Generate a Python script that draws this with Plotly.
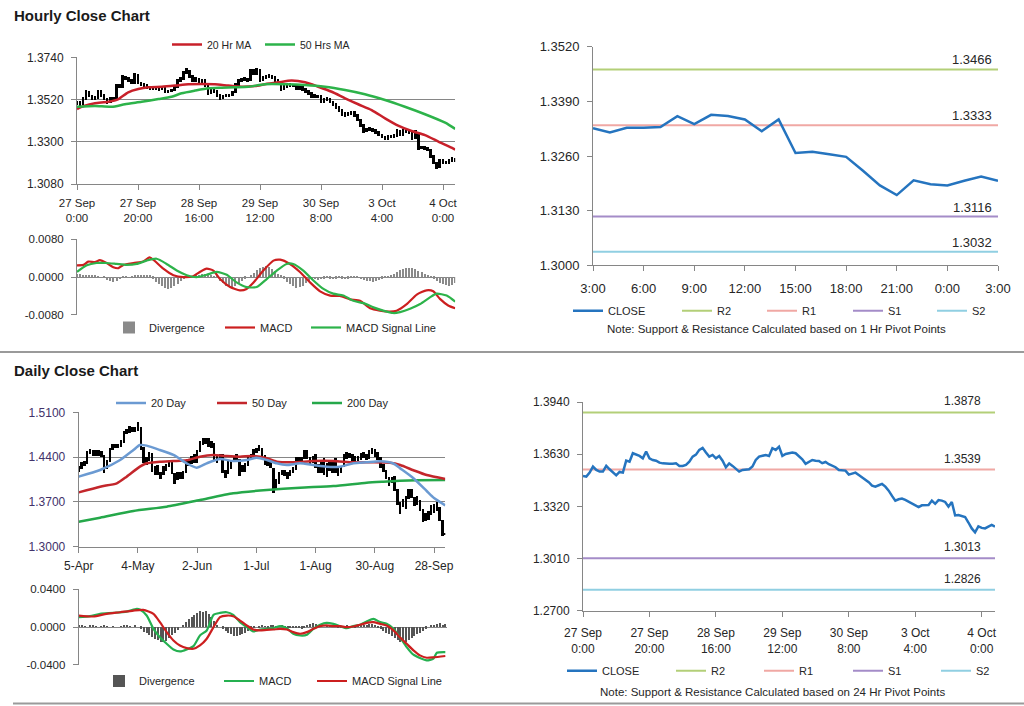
import plotly.graph_objects as go

W, H = 1024, 706
FONT = "Liberation Sans, Arial, sans-serif"
AXC = "#868686"
TXT = "#262626"
PURPLE = "#42326a"

# ---------------- Hourly data (27 Sep 0:00 .. 4 Oct 3:00) ----------------
hourly_tick_pos = [0, 20, 40, 60, 80, 100, 120]
hourly_tick_text = ["27 Sep<br>0:00", "27 Sep<br>20:00", "28 Sep<br>16:00", "29 Sep<br>12:00",
                    "30 Sep<br>8:00", "3 Oct<br>4:00", "4 Oct<br>0:00"]

hourly_close = [
    1.3501, 1.3497, 1.3521, 1.3557, 1.3537, 1.3527, 1.3527, 1.3561, 1.3541, 1.3521,
    1.3505, 1.3525, 1.3521, 1.3592, 1.3586, 1.3636, 1.3628, 1.3620, 1.3606, 1.3646,
    1.3606, 1.3596, 1.3592, 1.3580, 1.3576, 1.3573, 1.3573, 1.3573, 1.3576, 1.3561,
    1.3561, 1.3567, 1.3586, 1.3616, 1.3628, 1.3656, 1.3668, 1.3640, 1.3616, 1.3626,
    1.3606, 1.3620, 1.3592, 1.3553, 1.3576, 1.3561, 1.3541, 1.3527, 1.3537, 1.3541,
    1.3541, 1.3557, 1.3596, 1.3616, 1.3620, 1.3626, 1.3620, 1.3666, 1.3656, 1.3675,
    1.3620, 1.3632, 1.3636, 1.3640, 1.3636, 1.3620, 1.3600, 1.3573, 1.3586, 1.3596,
    1.3592, 1.3590, 1.3577, 1.3584, 1.3571, 1.3561, 1.3553, 1.3537, 1.3537, 1.3533,
    1.3509, 1.3517, 1.3521, 1.3507, 1.3493, 1.3478, 1.3464, 1.3444, 1.3438, 1.3446,
    1.3454, 1.3438, 1.3414, 1.3383, 1.3355, 1.3363, 1.3367, 1.3359, 1.3347, 1.3335,
    1.3326, 1.3316, 1.3327, 1.3327, 1.3329, 1.3355, 1.3336, 1.3358, 1.3355, 1.3347,
    1.3319, 1.3347, 1.3267, 1.3270, 1.3264, 1.3258, 1.3225, 1.3190, 1.3167, 1.3202,
    1.3193, 1.3190, 1.3201, 1.3211, 1.3201]

hourly_high = [
    1.3512, 1.3510, 1.3530, 1.3566, 1.3563, 1.3545, 1.3536, 1.3570, 1.3566, 1.3548,
    1.3527, 1.3533, 1.3531, 1.3600, 1.3598, 1.3645, 1.3642, 1.3634, 1.3626, 1.3655,
    1.3650, 1.3612, 1.3603, 1.3598, 1.3586, 1.3583, 1.3581, 1.3580, 1.3584, 1.3582,
    1.3569, 1.3575, 1.3594, 1.3624, 1.3637, 1.3666, 1.3685, 1.3674, 1.3646, 1.3634,
    1.3632, 1.3628, 1.3626, 1.3598, 1.3584, 1.3582, 1.3567, 1.3548, 1.3545, 1.3549,
    1.3550, 1.3565, 1.3604, 1.3625, 1.3629, 1.3635, 1.3633, 1.3676, 1.3678, 1.3683,
    1.3680, 1.3640, 1.3644, 1.3650, 1.3647, 1.3642, 1.3626, 1.3606, 1.3594, 1.3604,
    1.3603, 1.3600, 1.3596, 1.3592, 1.3590, 1.3578, 1.3568, 1.3560, 1.3546, 1.3543,
    1.3540, 1.3525, 1.3530, 1.3528, 1.3513, 1.3500, 1.3485, 1.3471, 1.3452, 1.3454,
    1.3462, 1.3460, 1.3445, 1.3420, 1.3390, 1.3371, 1.3375, 1.3373, 1.3365, 1.3353,
    1.3341, 1.3332, 1.3335, 1.3335, 1.3338, 1.3364, 1.3362, 1.3366, 1.3372, 1.3363,
    1.3353, 1.3360, 1.3352, 1.3279, 1.3278, 1.3272, 1.3264, 1.3231, 1.3196, 1.3210,
    1.3208, 1.3200, 1.3209, 1.3219, 1.3217]

hourly_low = [
    1.3490, 1.3488, 1.3492, 1.3515, 1.3530, 1.3519, 1.3518, 1.3522, 1.3534, 1.3514,
    1.3496, 1.3500, 1.3512, 1.3516, 1.3578, 1.3580, 1.3620, 1.3612, 1.3598, 1.3600,
    1.3598, 1.3588, 1.3585, 1.3573, 1.3569, 1.3566, 1.3566, 1.3565, 1.3567, 1.3553,
    1.3553, 1.3556, 1.3561, 1.3580, 1.3609, 1.3622, 1.3650, 1.3632, 1.3608, 1.3610,
    1.3598, 1.3600, 1.3584, 1.3545, 1.3547, 1.3553, 1.3533, 1.3519, 1.3520, 1.3530,
    1.3533, 1.3535, 1.3551, 1.3590, 1.3609, 1.3613, 1.3612, 1.3614, 1.3648, 1.3649,
    1.3612, 1.3614, 1.3626, 1.3630, 1.3628, 1.3612, 1.3592, 1.3565, 1.3567, 1.3580,
    1.3585, 1.3583, 1.3570, 1.3571, 1.3564, 1.3553, 1.3545, 1.3529, 1.3529, 1.3525,
    1.3500, 1.3502, 1.3510, 1.3499, 1.3485, 1.3470, 1.3456, 1.3436, 1.3430, 1.3431,
    1.3439, 1.3430, 1.3406, 1.3375, 1.3347, 1.3348, 1.3357, 1.3352, 1.3340, 1.3328,
    1.3319, 1.3309, 1.3310, 1.3319, 1.3320, 1.3323, 1.3329, 1.3330, 1.3347, 1.3339,
    1.3311, 1.3313, 1.3259, 1.3260, 1.3257, 1.3250, 1.3217, 1.3182, 1.3160, 1.3162,
    1.3186, 1.3183, 1.3184, 1.3195, 1.3194]

ma20_h_x = [0, 2.6, 5.9, 10.3, 13.6, 16.8, 20.1, 23.4, 27.8, 32.1, 36.5, 40.9, 45.2, 49.6, 54.0,
            58.4, 61.6, 66.0, 70.4, 74.8, 79.1, 83.5, 87.9, 92.2, 96.6, 101.0, 105.3, 109.7,
            114.1, 118.5, 122.8, 124]
ma20_h = [1.3471, 1.3489, 1.3501, 1.3509, 1.3523, 1.3558, 1.3575, 1.3584, 1.3587, 1.3593, 1.3600,
          1.3601, 1.3600, 1.3593, 1.3587, 1.3591, 1.3600, 1.3610, 1.3619, 1.3610, 1.3587, 1.3561,
          1.3527, 1.3496, 1.3466, 1.3423, 1.3385, 1.3357, 1.3336, 1.3302, 1.3270, 1.3260]

ma50_h_x = [0, 5.9, 11.4, 15.7, 21.2, 26.7, 31.0, 34.3, 38.7, 43.1, 47.4, 51.8, 56.2, 61.6, 68.2,
            74.8, 81.3, 87.9, 94.4, 101.0, 107.5, 114.1, 120.7, 124]
ma50_h = [1.3483, 1.3487, 1.3483, 1.3496, 1.3509, 1.3523, 1.3535, 1.3553, 1.3567, 1.3579, 1.3582,
          1.3584, 1.3587, 1.3600, 1.3600, 1.3596, 1.3587, 1.3570, 1.3548, 1.3518, 1.3483, 1.3444,
          1.3400, 1.3368]

macd_h_x = [0, 2.1, 3.7, 5.9, 7.5, 9.7, 11.9, 13.6, 15.2, 18.5, 21.7, 23.7, 25.0, 28.3, 31.6, 34.9,
            38.1, 40.3, 42.5, 44.7, 46.9, 50.2, 53.4, 55.6, 57.8, 61.1, 64.4, 66.6, 69.8, 73.1,
            76.4, 79.7, 83.0, 86.2, 89.5, 92.8, 96.1, 99.3, 102.6, 104.8, 108.1, 111.4, 114.6,
            116.8, 119.0, 121.7, 124]
macd_h = [0.0025, 0.0026, 0.0033, 0.0032, 0.0036, 0.0030, 0.0021, 0.0019, 0.0026, 0.0030,
          0.0033, 0.0042, 0.0037, 0.0018, 0.0004, 0.0000, 0.0002, 0.0011, 0.0018, 0.0014,
          -0.0004, -0.0021, -0.0028, -0.0025, -0.0012, 0.0014, 0.0035, 0.0037, 0.0028, 0.0011,
          -0.0011, -0.0030, -0.0039, -0.0040, -0.0047, -0.0050, -0.0066, -0.0071, -0.0073, -0.0071,
          -0.0057, -0.0037, -0.0028, -0.0030, -0.0046, -0.0060, -0.0066]

signal_h_x = [0, 3.2, 6.4, 9.7, 13.0, 16.3, 19.6, 22.8, 26.1, 29.4, 32.7, 36.0, 39.2, 42.5, 45.8,
              49.1, 52.3, 55.6, 58.9, 62.2, 65.5, 68.7, 70.9, 74.2, 77.5, 80.8, 84.0, 87.3, 90.6,
              93.9, 97.2, 100.4, 103.7, 105.9, 109.2, 112.5, 115.7, 117.9, 121.2, 124]
signal_h = [0.0011, 0.0025, 0.0030, 0.0030, 0.0028, 0.0026, 0.0028, 0.0035, 0.0039, 0.0028,
            0.0014, 0.0004, 0.0000, 0.0005, 0.0011, 0.0005, -0.0011, -0.0021, -0.0021, -0.0004,
            0.0014, 0.0028, 0.0028, 0.0014, -0.0007, -0.0025, -0.0035, -0.0039, -0.0050, -0.0055,
            -0.0064, -0.0071, -0.0076, -0.0074, -0.0067, -0.0057, -0.0043, -0.0035, -0.0039, -0.0052]

divergence_h = [
    0.0006, 0.0005, 0.0004, 0.0003, 0.0003, 0.0002, 0.0002, 0.0001, 0.0000, -0.0003,
    -0.0006, -0.0009, -0.0010, -0.0008, -0.0005, -0.0002, -0.0001, 0.0000, 0.0001, 0.0002,
    0.0003, 0.0003, 0.0004, 0.0003, 0.0002, -0.0004, -0.0010, -0.0016, -0.0020, -0.0023,
    -0.0025, -0.0024, -0.0020, -0.0015, -0.0009, -0.0004, -0.0001, 0.0000, 0.0001, 0.0002,
    0.0003, 0.0005, 0.0006, 0.0005, 0.0003, 0.0001, -0.0002, -0.0008, -0.0014, -0.0019,
    -0.0021, -0.0022, -0.0019, -0.0014, -0.0009, -0.0004, 0.0000, 0.0004, 0.0009, 0.0014,
    0.0018, 0.0021, 0.0022, 0.0020, 0.0017, 0.0012, 0.0007, 0.0002, -0.0004, -0.0010,
    -0.0016, -0.0020, -0.0023, -0.0022, -0.0019, -0.0014, -0.0009, -0.0006, -0.0005, -0.0006,
    -0.0005, -0.0004, -0.0003, -0.0004, -0.0005, -0.0004, -0.0003, -0.0004, -0.0005, -0.0004,
    -0.0003, -0.0002, -0.0003, -0.0005, -0.0007, -0.0008, -0.0009, -0.0010, -0.0008, -0.0006,
    -0.0004, -0.0003, -0.0001, 0.0002, 0.0006, 0.0010, 0.0014, 0.0017, 0.0019, 0.0019,
    0.0018, 0.0016, 0.0013, 0.0010, 0.0007, 0.0004, 0.0001, -0.0004, -0.0009, -0.0013,
    -0.0016, -0.0018, -0.0019, -0.0017, -0.0014]

# 1-hour pivot panel (last 25 hourly closes, 3:00 .. 3:00)
pivot_h_tick_pos = [0, 3, 6, 9, 12, 15, 18, 21, 24]
pivot_h_tick_text = ["3:00", "6:00", "9:00", "12:00", "15:00", "18:00", "21:00", "0:00", "3:00"]
r2_h, r1_h, s1_h, s2_h = 1.3466, 1.3333, 1.3116, 1.3032
pivot_h_yticks = [1.3000, 1.3130, 1.3260, 1.3390, 1.3520]
pivot_h_ytext = ["1.3000", "1.3130", "1.3260", "1.3390", "1.3520"]

# 24-hour pivot panel levels
r2_d, r1_d, s1_d, s2_d = 1.3878, 1.3539, 1.3013, 1.2826
pivot_d_yticks = [1.2700, 1.3010, 1.3320, 1.3630, 1.3940]
pivot_d_ytext = ["1.2700", "1.3010", "1.3320", "1.3630", "1.3940"]

# ---------------- Daily data (5 Apr .. 4 Oct) ----------------
daily_tick_pos = [0, 21, 42, 63, 84, 105, 126]
daily_tick_text = ["5-Apr", "4-May", "2-Jun", "1-Jul", "1-Aug", "30-Aug", "28-Sep"]

daily_close = [
    1.4219, 1.4308, 1.4301, 1.4483, 1.4489, 1.4474, 1.4437, 1.4480, 1.4431, 1.4229,
    1.4325, 1.4506, 1.4563, 1.4570, 1.4578, 1.4648, 1.4782, 1.4811, 1.4806, 1.4824,
    1.4832, 1.4827, 1.4538, 1.4313, 1.4362, 1.4425, 1.4189, 1.4230, 1.4120, 1.4150,
    1.4236, 1.4265, 1.4315, 1.4150, 1.4049, 1.4119, 1.4096, 1.4168, 1.4317, 1.4291,
    1.4395, 1.4322, 1.4498, 1.4637, 1.4635, 1.4667, 1.4606, 1.4603, 1.4344, 1.4391,
    1.4437, 1.4170, 1.4139, 1.4307, 1.4340, 1.4390, 1.4344, 1.4226, 1.4185, 1.4303,
    1.4374, 1.4417, 1.4500, 1.4526, 1.4535, 1.4418, 1.4285, 1.4365, 1.4257, 1.3983,
    1.4004, 1.4151, 1.4173, 1.4152, 1.4117, 1.4173, 1.4221, 1.4373, 1.4367, 1.4379,
    1.4491, 1.4380, 1.4335, 1.4397, 1.4248, 1.4186, 1.4336, 1.4150, 1.4269, 1.4192,
    1.4300, 1.4165, 1.4227, 1.4247, 1.4429, 1.4404, 1.4440, 1.4332, 1.4390, 1.4370,
    1.4447, 1.4407, 1.4381, 1.4495, 1.4497, 1.4437, 1.4378, 1.4245, 1.4197, 1.4074,
    1.4002, 1.4076, 1.3879, 1.3653, 1.3658, 1.3700, 1.3769, 1.3870, 1.3795, 1.3685,
    1.3704, 1.3574, 1.3453, 1.3502, 1.3515, 1.3590, 1.3542, 1.3582, 1.3420, 1.3190,
    1.3201]

daily_high = [
    1.4250, 1.4320, 1.4340, 1.4490, 1.4520, 1.4500, 1.4500, 1.4500, 1.4490, 1.4430,
    1.4350, 1.4540, 1.4600, 1.4600, 1.4600, 1.4660, 1.4800, 1.4840, 1.4880, 1.4860,
    1.4870, 1.4940, 1.4860, 1.4550, 1.4400, 1.4480, 1.4460, 1.4260, 1.4270, 1.4170,
    1.4260, 1.4290, 1.4330, 1.4330, 1.4140, 1.4160, 1.4160, 1.4180, 1.4330, 1.4330,
    1.4410, 1.4450, 1.4510, 1.4650, 1.4690, 1.4700, 1.4690, 1.4640, 1.4610, 1.4420,
    1.4450, 1.4450, 1.4190, 1.4330, 1.4350, 1.4410, 1.4450, 1.4370, 1.4270, 1.4310,
    1.4390, 1.4440, 1.4520, 1.4540, 1.4580, 1.4540, 1.4430, 1.4380, 1.4370, 1.4230,
    1.4060, 1.4170, 1.4200, 1.4200, 1.4160, 1.4190, 1.4240, 1.4400, 1.4400, 1.4400,
    1.4510, 1.4500, 1.4400, 1.4420, 1.4450, 1.4280, 1.4350, 1.4380, 1.4310, 1.4320,
    1.4340, 1.4380, 1.4250, 1.4260, 1.4440, 1.4470, 1.4460, 1.4450, 1.4410, 1.4420,
    1.4460, 1.4470, 1.4440, 1.4500, 1.4530, 1.4520, 1.4480, 1.4390, 1.4280, 1.4190,
    1.4090, 1.4090, 1.4100, 1.3900, 1.3690, 1.3740, 1.3790, 1.3900, 1.3890, 1.3770,
    1.3780, 1.3720, 1.3580, 1.3520, 1.3550, 1.3640, 1.3660, 1.3690, 1.3610, 1.3420,
    1.3215]

daily_low = [
    1.4155, 1.4210, 1.4250, 1.4290, 1.4440, 1.4420, 1.4410, 1.4410, 1.4390, 1.4150,
    1.4210, 1.4320, 1.4500, 1.4540, 1.4530, 1.4560, 1.4620, 1.4760, 1.4770, 1.4780,
    1.4790, 1.4800, 1.4510, 1.4300, 1.4270, 1.4340, 1.4170, 1.4120, 1.4110, 1.4060,
    1.4120, 1.4180, 1.4240, 1.4130, 1.3970, 1.4030, 1.4050, 1.4060, 1.4150, 1.4250,
    1.4280, 1.4300, 1.4300, 1.4470, 1.4580, 1.4600, 1.4560, 1.4530, 1.4330, 1.4310,
    1.4360, 1.4150, 1.4070, 1.4130, 1.4210, 1.4320, 1.4320, 1.4100, 1.4170, 1.4160,
    1.4260, 1.4350, 1.4400, 1.4460, 1.4490, 1.4400, 1.4270, 1.4250, 1.4220, 1.3840,
    1.3900, 1.3980, 1.4110, 1.4100, 1.4050, 1.4100, 1.4150, 1.4200, 1.4330, 1.4300,
    1.4370, 1.4360, 1.4280, 1.4300, 1.4230, 1.4150, 1.4150, 1.4120, 1.4080, 1.4180,
    1.4140, 1.4150, 1.4100, 1.4150, 1.4240, 1.4370, 1.4380, 1.4300, 1.4300, 1.4330,
    1.4350, 1.4380, 1.4350, 1.4360, 1.4450, 1.4390, 1.4350, 1.4230, 1.4170, 1.4050,
    1.3940, 1.3990, 1.3860, 1.3650, 1.3500, 1.3620, 1.3590, 1.3740, 1.3760, 1.3630,
    1.3650, 1.3560, 1.3380, 1.3390, 1.3410, 1.3490, 1.3520, 1.3550, 1.3400, 1.3160,
    1.3180]

ma20_d_x = [0, 7.6, 14.7, 19.4, 21.7, 24.1, 28.8, 33.6, 38.3, 41.8, 45.4, 50.1, 54.8, 59.6, 63.1,
            66.7, 70.2, 73.8, 78.5, 83.2, 87.9, 92.7, 97.4, 102.1, 106.9, 111.6, 114.0, 118.7,
            123.4, 126.0, 130]
ma20_d = [1.4095, 1.4198, 1.4355, 1.4511, 1.4589, 1.4579, 1.4511, 1.4433, 1.4303, 1.4235,
          1.4303, 1.4370, 1.4339, 1.4355, 1.4391, 1.4355, 1.4303, 1.4277, 1.4303, 1.4277,
          1.4251, 1.4251, 1.4303, 1.4318, 1.4335, 1.4300, 1.4224, 1.4070, 1.3870, 1.3760, 1.3645]

ma50_d_x = [0, 7.6, 13.5, 17.0, 21.7, 24.1, 28.8, 33.6, 38.3, 43.0, 47.8, 52.5, 57.2, 61.9, 66.7,
            70.2, 76.1, 83.2, 90.3, 97.4, 104.5, 110.4, 114.0, 118.7, 123.4, 130]
ma50_d = [1.3849, 1.3938, 1.3990, 1.4094, 1.4251, 1.4303, 1.4329, 1.4339, 1.4350, 1.4407,
          1.4433, 1.4417, 1.4407, 1.4417, 1.4381, 1.4329, 1.4318, 1.4339, 1.4339, 1.4318,
          1.4318, 1.4310, 1.4276, 1.4195, 1.4120, 1.4058]

ma200_d_x = [0, 7.6, 19.4, 31.2, 43.0, 54.8, 66.7, 78.5, 90.3, 102.1, 108.0, 113.9, 119.9, 130]
ma200_d = [1.3391, 1.3453, 1.3558, 1.3625, 1.3729, 1.3834, 1.3886, 1.3922, 1.3948, 1.4000,
           1.4016, 1.4030, 1.4037, 1.4042]

macd_d_x = [0, 4.0, 7.6, 12.3, 17.0, 20.6, 21.7, 24.1, 26.5, 28.8, 31.2, 33.6, 35.9, 38.3, 40.7,
            43.0, 45.4, 47.8, 50.1, 52.5, 54.8, 57.2, 59.6, 61.9, 64.3, 66.7, 69.0, 71.4, 73.8,
            76.1, 78.5, 80.9, 83.2, 85.6, 87.9, 90.3, 92.7, 95.0, 97.4, 99.8, 102.1, 104.5, 106.9,
            109.2, 111.6, 113.9, 116.3, 118.7, 121.0, 123.4, 125.8, 127.0, 130]
macd_d = [0.0106, 0.0116, 0.0141, 0.0151, 0.0165, 0.0194, 0.0187, 0.0123, -0.0018, -0.0106,
          -0.0176, -0.0236, -0.0257, -0.0236, -0.0201, -0.0088, -0.0035, 0.0130, 0.0151, 0.0158,
          0.0130, 0.0053, 0.0000, -0.0046, -0.0025, -0.0018, -0.0011, 0.0011, -0.0011, -0.0070,
          -0.0088, -0.0081, -0.0018, 0.0025, 0.0046, 0.0035, 0.0011, -0.0011, 0.0011, 0.0025,
          0.0060, 0.0088, 0.0053, 0.0035, -0.0018, -0.0106, -0.0211, -0.0292, -0.0327, -0.0352,
          -0.0334, -0.0271, -0.0264]

signal_d_x = [0, 5.2, 9.9, 14.7, 19.4, 22.9, 26.5, 28.8, 31.2, 33.6, 35.9, 38.3, 40.7, 43.0, 45.4,
              47.8, 50.1, 52.5, 54.8, 57.2, 59.6, 61.9, 64.3, 66.7, 69.0, 71.4, 73.8, 76.1, 78.5,
              80.9, 83.2, 85.6, 87.9, 90.3, 92.7, 95.0, 97.4, 99.8, 102.1, 104.5, 106.9, 109.2,
              111.6, 113.9, 116.3, 118.7, 121.0, 123.4, 125.8, 130]
signal_d = [0.0123, 0.0113, 0.0141, 0.0158, 0.0176, 0.0183, 0.0141, 0.0053, -0.0053, -0.0141,
            -0.0194, -0.0222, -0.0229, -0.0194, -0.0123, 0.0000, 0.0106, 0.0123, 0.0116, 0.0070,
            0.0018, -0.0025, -0.0035, -0.0028, -0.0025, -0.0018, -0.0025, -0.0053, -0.0070, -0.0053,
            -0.0018, 0.0011, 0.0018, 0.0011, 0.0011, 0.0000, 0.0007, 0.0025, 0.0046, 0.0053,
            0.0035, 0.0018, -0.0035, -0.0106, -0.0176, -0.0246, -0.0299, -0.0324, -0.0320, -0.0306]

divergence_d = [
    0.0010, 0.0010, 0.0005, 0.0000, 0.0010, 0.0010, 0.0005, 0.0000, 0.0005, 0.0010, 0.0005,
    0.0000, 0.0005, 0.0000, 0.0000, 0.0005, 0.0010, 0.0010, 0.0005, 0.0000, 0.0010,
    0.0000, -0.0020, -0.0050,
    -0.0070, -0.0090, -0.0110, -0.0130, -0.0140, -0.0160, -0.0160, -0.0150, -0.0120, -0.0090, -0.0060, -0.0030,
    0.0000, 0.0020, 0.0050, 0.0080, 0.0100,
    0.0130, 0.0150, 0.0170, 0.0160, 0.0170, 0.0140, 0.0100, 0.0060,
    0.0020, 0.0000, -0.0020, -0.0040,
    -0.0060, -0.0080, -0.0100, -0.0100, -0.0090, -0.0080, -0.0060, -0.0040, -0.0020, -0.0010,
    0.0000, -0.0010, 0.0010, 0.0005, -0.0005, 0.0010, 0.0010, 0.0005, 0.0000, 0.0010, 0.0005,
    -0.0005, -0.0010, -0.0015, -0.0010, -0.0015, -0.0020, -0.0010,
    0.0020, 0.0030, 0.0040, 0.0030, 0.0020, 0.0010, 0.0000,
    0.0015, 0.0020, 0.0010, 0.0000, -0.0010, -0.0015, 0.0000, 0.0010, 0.0005, 0.0000, -0.0005,
    0.0005, 0.0010, 0.0015, 0.0020, 0.0025, 0.0030, 0.0020,
    -0.0010, -0.0020, -0.0040, -0.0060, -0.0080,
    -0.0100, -0.0120, -0.0140, -0.0160, -0.0150, -0.0160, -0.0140, -0.0120, -0.0100, -0.0080, -0.0060,
    -0.0040, -0.0020, 0.0000, 0.0010,
    0.0020, 0.0030, 0.0040, 0.0020, 0.0030]

price_ticks_h = [1.3080, 1.3300, 1.3520, 1.3740]
price_text_h = ["1.3080", "1.3300", "1.3520", "1.3740"]
macd_ticks_h = [-0.008, 0.0, 0.008]
macd_text_h = ["-0.0080", "0.0000", "0.0080"]
price_ticks_d = [1.3000, 1.3700, 1.4400, 1.5100]
price_text_d = ["1.3000", "1.3700", "1.4400", "1.5100"]
macd_ticks_d = [-0.04, 0.0, 0.04]
macd_text_d = ["-0.0400", "0.0000", "0.0400"]

# ---------------- helpers ----------------
def px(x):
    return x / W


def py(y):
    return 1 - y / H


LEG_OFF = 5
legends = {}


def legend_at(x_px, y_px, size=11):
    n = len(legends) + 1
    key = "legend" if n == 1 else "legend%d" % n
    legends[key] = dict(x=px(x_px - LEG_OFF), y=py(y_px), xanchor="left", yanchor="middle",
                        orientation="h", bgcolor="rgba(0,0,0,0)", borderwidth=0,
                        font=dict(family=FONT, size=size, color=TXT), itemwidth=30)
    return key


fig = go.Figure()

# ---------- Panel 1: hourly bars + MAs ----------
idx_h = list(range(len(hourly_close)))
fig.add_trace(go.Bar(x=idx_h, y=[h - l for h, l in zip(hourly_high, hourly_low)], base=hourly_low,
                     width=0.65, marker=dict(color="#000000", line=dict(width=0)),
                     xaxis="x", yaxis="y", showlegend=False, name="Hourly"))
fig.add_trace(go.Scatter(x=ma20_h_x, y=ma20_h, mode="lines", name="20 Hr MA",
                         line=dict(color="#c8202a", width=2.5, shape="spline", smoothing=0.6),
                         xaxis="x", yaxis="y", legend=legend_at(172, 44.5, 10.5)))
fig.add_trace(go.Scatter(x=ma50_h_x, y=ma50_h, mode="lines", name="50 Hrs MA",
                         line=dict(color="#2db34a", width=2.5, shape="spline", smoothing=0.6),
                         xaxis="x", yaxis="y", legend=legend_at(265, 44.5, 10.5)))

# ---------- Panel 2: hourly MACD ----------
fig.add_trace(go.Bar(x=idx_h, y=divergence_h, width=0.4, name="Divergence",
                     marker=dict(color="#8a8a8a", line=dict(width=0)),
                     xaxis="x2", yaxis="y2", legend=legend_at(114, 327.5)))
fig.add_trace(go.Scatter(x=macd_h_x, y=macd_h, mode="lines", name="MACD",
                         line=dict(color="#cc1f1f", width=2.2, shape="spline", smoothing=0.6),
                         xaxis="x2", yaxis="y2", legend=legend_at(225, 327.5)))
fig.add_trace(go.Scatter(x=signal_h_x, y=signal_h, mode="lines", name="MACD Signal Line",
                         line=dict(color="#2db34a", width=2.2, shape="spline", smoothing=0.6),
                         xaxis="x2", yaxis="y2", legend=legend_at(311, 327.5)))

# ---------- Panel 3: 1 Hr pivot ----------
pivot_h_close = hourly_close[100:]
span_h = [0, len(pivot_h_close) - 1]
pivot_colors = {"R2": "#b3cf78", "R1": "#f0a8a4", "S1": "#a48cc8", "S2": "#90cfe2"}
for name, val, lx in [("R2", r2_h, 682), ("R1", r1_h, 767), ("S1", s1_h, 853), ("S2", s2_h, 937)]:
    fig.add_trace(go.Scatter(x=span_h, y=[val, val], mode="lines", name=name,
                             line=dict(color=pivot_colors[name], width=2),
                             xaxis="x3", yaxis="y3", legend=legend_at(lx, 310.7)))
fig.add_trace(go.Scatter(x=list(range(len(pivot_h_close))), y=pivot_h_close, mode="lines", name="CLOSE",
                         line=dict(color="#2574bf", width=2.5),
                         xaxis="x3", yaxis="y3", legend=legend_at(573, 310.7)))

# ---------- Panel 4: daily bars + MAs ----------
idx_d = list(range(len(daily_close)))
fig.add_trace(go.Bar(x=idx_d, y=[h - l for h, l in zip(daily_high, daily_low)], base=daily_low,
                     width=0.7, marker=dict(color="#000000", line=dict(width=0)),
                     xaxis="x4", yaxis="y4", showlegend=False, name="Daily"))
fig.add_trace(go.Scatter(x=ma200_d_x, y=ma200_d, mode="lines", name="200 Day",
                         line=dict(color="#25a84a", width=2.5, shape="spline", smoothing=0.6),
                         xaxis="x4", yaxis="y4", legend=legend_at(312, 403)))
fig.add_trace(go.Scatter(x=ma50_d_x, y=ma50_d, mode="lines", name="50 Day",
                         line=dict(color="#c3262b", width=2.5, shape="spline", smoothing=0.6),
                         xaxis="x4", yaxis="y4", legend=legend_at(217, 403)))
fig.add_trace(go.Scatter(x=ma20_d_x, y=ma20_d, mode="lines", name="20 Day",
                         line=dict(color="#6b9ad2", width=2.5, shape="spline", smoothing=0.6),
                         xaxis="x4", yaxis="y4", legend=legend_at(116, 403)))

# ---------- Panel 5: daily MACD ----------
fig.add_trace(go.Bar(x=idx_d, y=divergence_d, width=0.45, name="Divergence",
                     marker=dict(color="#555555", line=dict(width=0)),
                     xaxis="x5", yaxis="y5", legend=legend_at(104, 681)))
fig.add_trace(go.Scatter(x=macd_d_x, y=macd_d, mode="lines", name="MACD",
                         line=dict(color="#25b050", width=2.2, shape="spline", smoothing=0.6),
                         xaxis="x5", yaxis="y5", legend=legend_at(224, 681)))
fig.add_trace(go.Scatter(x=signal_d_x, y=signal_d, mode="lines", name="MACD Signal Line",
                         line=dict(color="#cc1f1f", width=2.2, shape="spline", smoothing=0.6),
                         xaxis="x5", yaxis="y5", legend=legend_at(317, 681)))

# ---------- Panel 6: 24 Hr pivot ----------
span_d = [0, len(hourly_close) - 1]
for name, val, lx in [("R2", r2_d, 676), ("R1", r1_d, 764), ("S1", s1_d, 853), ("S2", s2_d, 941)]:
    fig.add_trace(go.Scatter(x=span_d, y=[val, val], mode="lines", name=name,
                             line=dict(color=pivot_colors[name], width=2),
                             xaxis="x6", yaxis="y6", legend=legend_at(lx, 670.7)))
fig.add_trace(go.Scatter(x=idx_h, y=hourly_close, mode="lines", name="CLOSE",
                         line=dict(color="#2574bf", width=2.5),
                         xaxis="x6", yaxis="y6", legend=legend_at(567, 670.7)))


# ---------- axes ----------
def axis(**kw):
    d = dict(showgrid=False, zeroline=False, showline=True, linecolor=AXC, linewidth=1,
             ticks="outside", ticklen=5, tickcolor=AXC, tickwidth=1, fixedrange=True,
             automargin=False,
             tickfont=dict(family=FONT, size=12, color=TXT), tickmode="array")
    d.update(kw)
    return d


layout_axes = dict(
    xaxis=axis(domain=[px(77), px(455.2)], range=[0, 124], anchor="y",
               tickvals=hourly_tick_pos, ticktext=hourly_tick_text,
               tickfont=dict(family=FONT, size=11.5, color=TXT), ticklabelstandoff=3),
    yaxis=axis(domain=[py(184.3), py(57.3)], range=[1.30799, 1.37401], anchor="x",
               tickvals=price_ticks_h, ticktext=price_text_h, showgrid=True, gridcolor=AXC,
               ticklabelstandoff=5),
    xaxis2=axis(domain=[px(77), px(455.2)], range=[0, 124], anchor="y2", showline=False,
                ticks="", showticklabels=False),
    yaxis2=axis(domain=[py(315), py(239.3)], range=[-0.00802, 0.00802], anchor="x2",
                tickvals=macd_ticks_h, ticktext=macd_text_h, showgrid=True, gridcolor=AXC,
                zeroline=True, zerolinecolor=AXC, zerolinewidth=1, ticklabelstandoff=5,
                tickfont=dict(family=FONT, size=11.5, color=TXT)),
    xaxis3=axis(domain=[px(593), px(998)], range=[0, 24], anchor="y3",
                tickvals=pivot_h_tick_pos, ticktext=pivot_h_tick_text,
                tickfont=dict(family=FONT, size=13, color=TXT), ticklabelstandoff=6),
    yaxis3=axis(domain=[py(265.3), py(46.7)], range=[1.29999, 1.35201], anchor="x3",
                tickvals=pivot_h_yticks, ticktext=pivot_h_ytext,
                tickfont=dict(family=FONT, size=13, color=TXT), ticklabelstandoff=5),
    xaxis4=axis(domain=[px(78.7), px(445.3)], range=[0, 130], anchor="y4",
                tickvals=daily_tick_pos, ticktext=daily_tick_text, ticklabelstandoff=3),
    yaxis4=axis(domain=[py(546.7), py(412.3)], range=[1.29999, 1.51001], anchor="x4",
                tickvals=price_ticks_d, ticktext=price_text_d, showgrid=True, gridcolor=AXC,
                tickfont=dict(family=FONT, size=12, color=PURPLE), ticklabelstandoff=5),
    xaxis5=axis(domain=[px(78.7), px(447)], range=[0, 130.6], anchor="y5", showline=False,
                ticks="", showticklabels=False),
    yaxis5=axis(domain=[py(665), py(589.3)], range=[-0.0401, 0.0401], anchor="x5",
                tickvals=macd_ticks_d, ticktext=macd_text_d, showgrid=True, gridcolor=AXC,
                zeroline=True, zerolinecolor=AXC, zerolinewidth=1, ticklabelstandoff=5,
                tickfont=dict(family=FONT, size=11.5, color=TXT)),
    xaxis6=axis(domain=[px(583), px(995)], range=[0, 124], anchor="y6",
                tickvals=hourly_tick_pos, ticktext=hourly_tick_text, ticklabelstandoff=6),
    yaxis6=axis(domain=[py(611), py(402)], range=[1.26999, 1.39401], anchor="x6",
                tickvals=pivot_d_yticks, ticktext=pivot_d_ytext, ticklabelstandoff=5),
)

# ---------- annotations ----------
annotations = [
    dict(text="<b>Hourly Close Chart</b>", x=px(12), y=py(16), xref="paper", yref="paper",
         xanchor="left", yanchor="middle", showarrow=False,
         font=dict(family=FONT, size=15, color="#1a1a1a")),
    dict(text="<b>Daily Close Chart</b>", x=px(12), y=py(370), xref="paper", yref="paper",
         xanchor="left", yanchor="middle", showarrow=False,
         font=dict(family=FONT, size=15, color="#1a1a1a")),
    dict(text="Note: Support & Resistance Calculated based on 1 Hr Pivot Points",
         x=px(776), y=py(329), xref="paper", yref="paper", xanchor="center", yanchor="middle",
         showarrow=False, font=dict(family=FONT, size=11.5, color=TXT)),
    dict(text="Note: Support & Resistance Calculated based on 24 Hr Pivot Points",
         x=px(772), y=py(692), xref="paper", yref="paper", xanchor="center", yanchor="middle",
         showarrow=False, font=dict(family=FONT, size=11.5, color=TXT)),
]
for val in [r2_h, r1_h, s1_h, s2_h]:
    annotations.append(dict(text="%.4f" % val, x=span_h[1], y=val, xref="x3", yref="y3",
                            xanchor="right", yanchor="bottom", xshift=-4, yshift=0,
                            showarrow=False, font=dict(family=FONT, size=13, color=TXT)))
for val in [r2_d, r1_d, s1_d, s2_d]:
    annotations.append(dict(text="%.4f" % val, x=span_d[1], y=val, xref="x6", yref="y6",
                            xanchor="right", yanchor="bottom", xshift=-12, yshift=2,
                            showarrow=False, font=dict(family=FONT, size=12, color=TXT)))

shapes = [
    dict(type="line", xref="paper", yref="paper", x0=0, x1=1, y0=py(352), y1=py(352),
         line=dict(color="#9a9a9a", width=2)),
    dict(type="line", xref="paper", yref="paper", x0=px(13), x1=1, y0=py(703.5), y1=py(703.5),
         line=dict(color="#9a9a9a", width=2)),
]

fig.update_layout(
    template="none",
    width=W, height=H, autosize=False,
    margin=dict(l=0, r=0, t=0, b=0, pad=0, autoexpand=False),
    paper_bgcolor="white", plot_bgcolor="white",
    barmode="overlay", bargap=0,
    showlegend=True,
    font=dict(family=FONT, size=11, color=TXT),
    annotations=annotations, shapes=shapes,
    hovermode=False,
    **layout_axes,
    **legends,
)

fig.write_html("out.html", config={"displayModeBar": False},
               post_script="document.body.style.margin='0';")
